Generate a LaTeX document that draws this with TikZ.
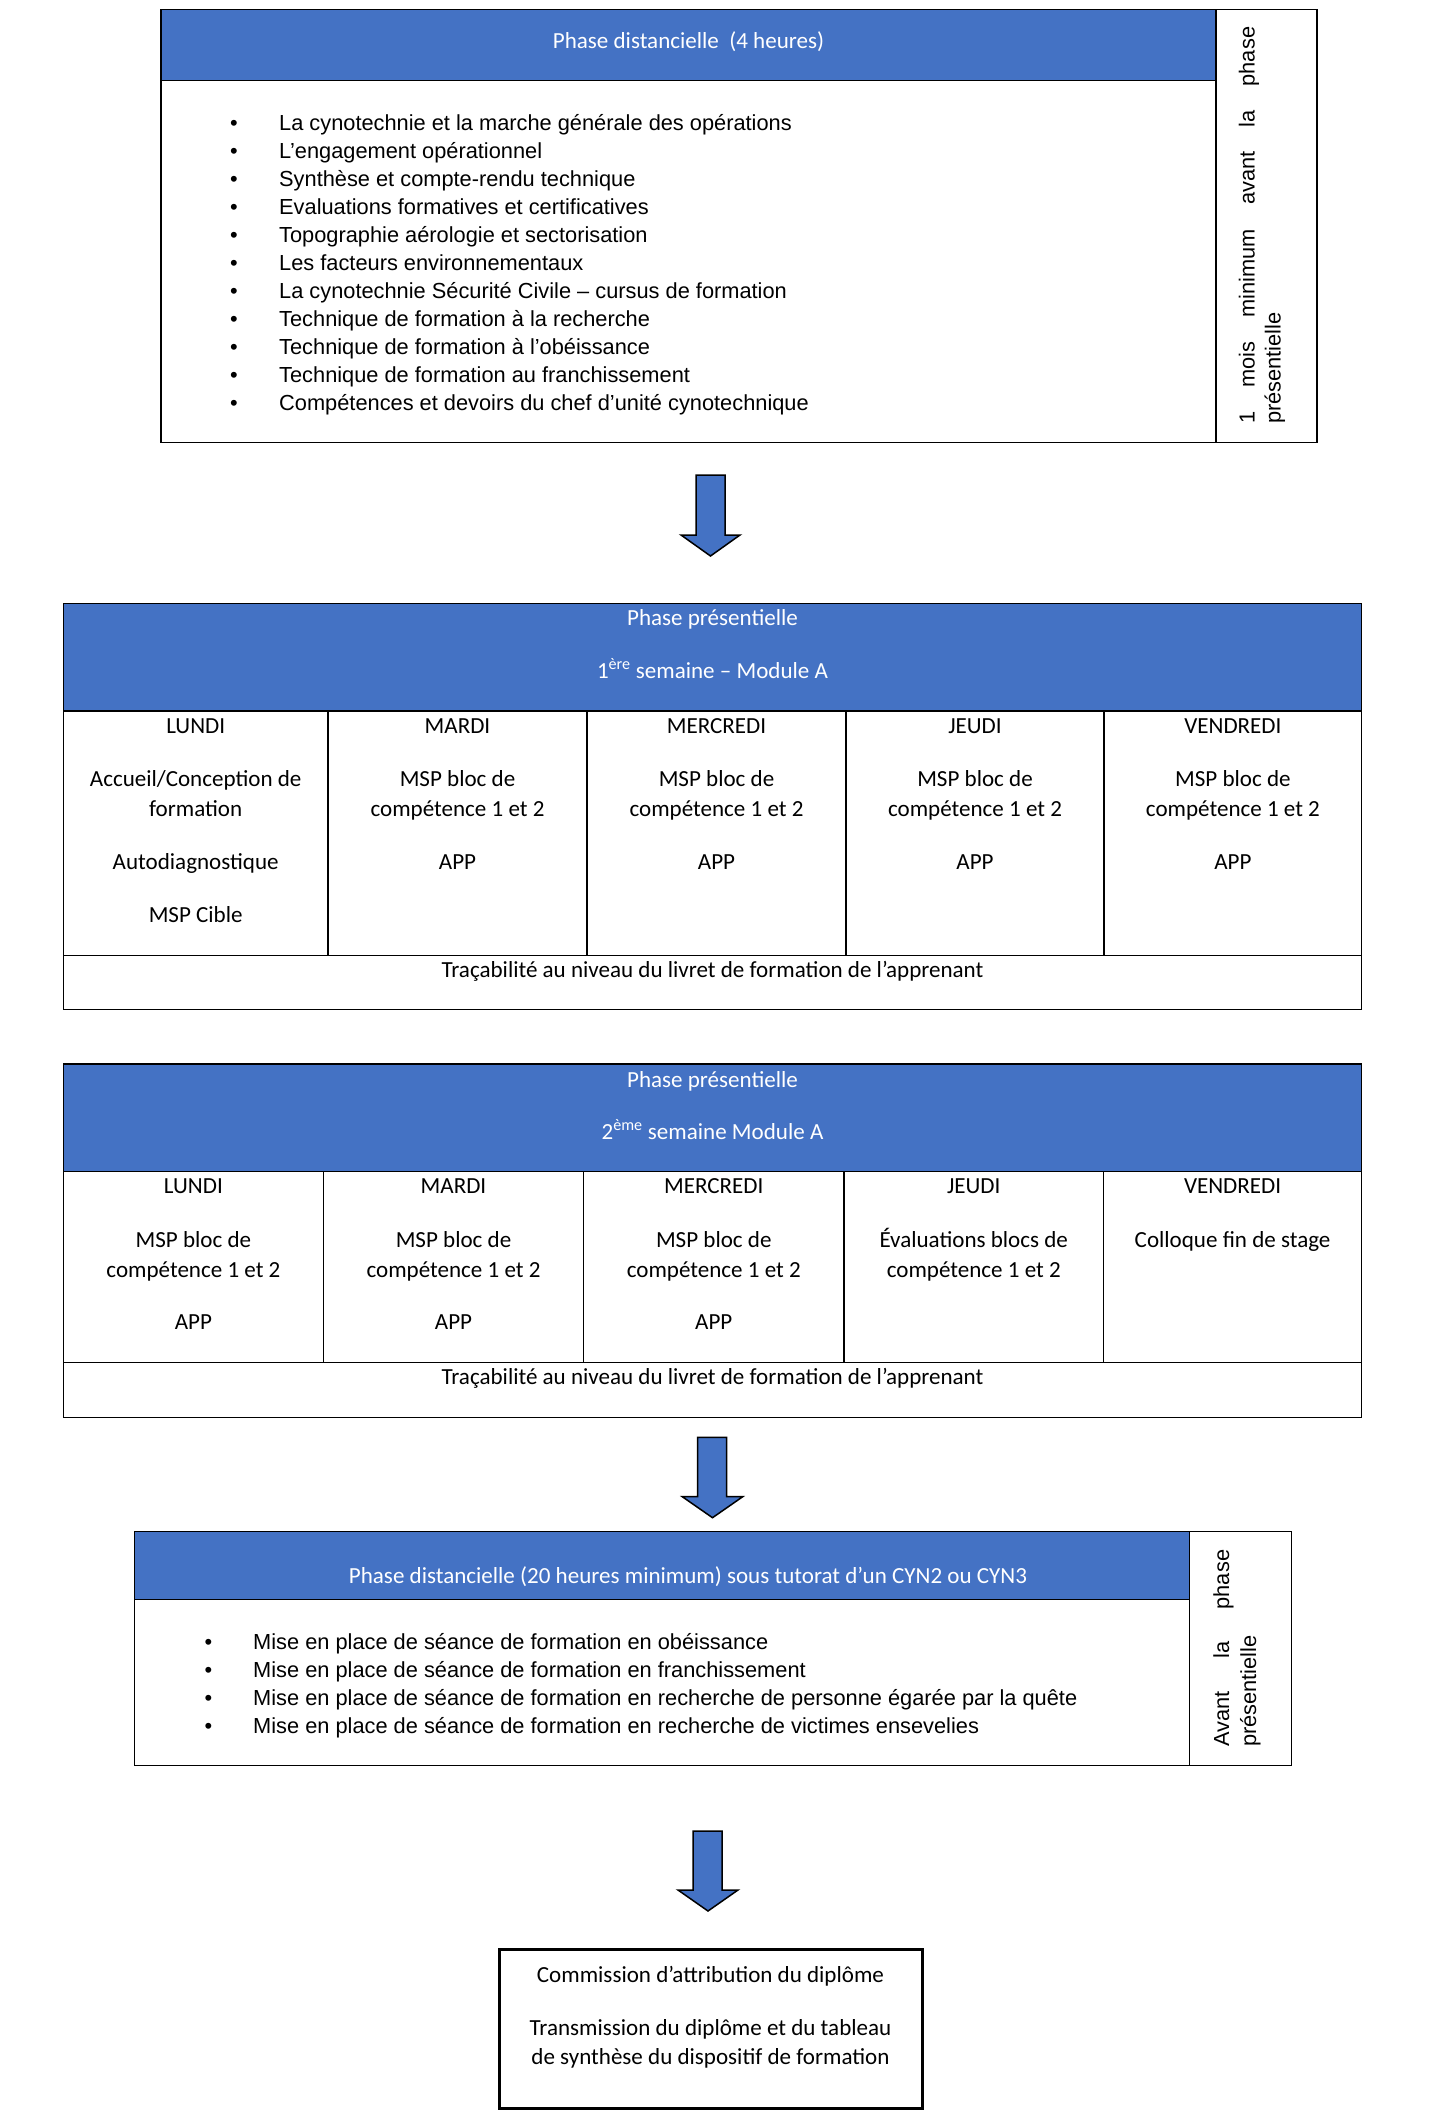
\documentclass[tikz,border=0pt]{standalone}
\usepackage{fontspec}
\setmainfont{Carlito}
\newfontfamily\arialf{Liberation Sans}
\definecolor{hblue}{RGB}{68,114,196}
\begin{document}
\begin{tikzpicture}[x=1pt,y=-1pt,
  cal/.style={font=\fontsize{23.05}{30}\selectfont, text height=1.3em, text depth=0pt, inner sep=0pt},
  ari/.style={font=\arialf\fontsize{21.8}{28}\selectfont, text height=1.33em, text depth=0pt, inner sep=0pt},
  hdr/.style={cal, text=white},
  thin/.style={line width=1.3pt, draw=black},
  barrow/.style={fill=hblue, draw=black, line width=1.5pt, line join=miter},
  bigbox/.style={line width=3pt, draw=black},
]
\useasboundingbox (0,0) rectangle (1429,2117);
\fill[white] (0,0) rectangle (1429,2117);

% ---------- top box : phase distancielle (4 heures)
\fill[hblue] (161,9.3) rectangle (1216,80.3);
\draw[thin] (161,9.3) rectangle (1317,442.7);
\draw[thin] (161,80.3) -- (1216,80.3);
\draw[thin] (1216,9.3) -- (1216,442.7);
\node[hdr] (h1) at (688.5,42) {Phase distancielle\ \ (4 heures)};
\foreach \t [count=\i from 0] in {%
  La cynotechnie et la marche générale des opérations,
  L’engagement opérationnel,
  Synthèse et compte-rendu technique,
  Evaluations formatives et certificatives,
  Topographie aérologie et sectorisation,
  Les facteurs environnementaux,
  La cynotechnie Sécurité Civile – cursus de formation,
  Technique de formation à la recherche,
  Technique de formation à l’obéissance,
  Technique de formation au franchissement,
  Compétences et devoirs du chef d’unité cynotechnique}{%
  \node[ari] (b\i) at (234,{124+28*\i}) {•};
  \node[ari, anchor=west] (l\i) at (279,{124+28*\i}) {\t};
}
\node[ari, rotate=90, anchor=west] (s1a) at (1248,424) {\makebox[397pt][s]{1 mois minimum avant la phase}};
\node[ari, rotate=90, anchor=west] (s1b) at (1274,424) {présentielle};

% ---------- arrow 1
\draw[barrow] (696,475) -- (725,475) -- (725,535) -- (740,535) -- (710.5,556) -- (681,535) -- (696,535) -- cycle;

% ---------- table 1
\fill[hblue] (63.3,603.3) rectangle (1361.7,711);
\draw[thin] (63.3,603.3) rectangle (1361.7,1009.3);
\draw[thin] (63.3,711) -- (1361.7,711);
\draw[thin] (63.3,955.3) -- (1361.7,955.3);
\foreach \x in {328,587,846,1104} \draw[thin] (\x,711) -- (\x,955.3);
\node[hdr] (t1h1) at (712.5,619) {Phase présentielle};
\node[hdr] (t1h2) at (712.5,672) {1\textsuperscript{ère} semaine – Module A};
\node[cal] (t1d1) at (195.7,727) {LUNDI};
\node[cal] (t1d2) at (457.5,727) {MARDI};
\node[cal] (t1d3) at (716.5,727) {MERCREDI};
\node[cal] (t1d4) at (975,727) {JEUDI};
\node[cal] (t1d5) at (1232.9,727) {VENDREDI};
\node[cal] (t1a1) at (195.7,780) {Accueil/Conception de};
\node[cal] (t1b1) at (195.7,810) {formation};
\node[cal] (t1c1) at (195.7,862.7) {Autodiagnostique};
\node[cal] (t1e1) at (195.7,915.7) {MSP Cible};
\foreach \x [count=\i from 2] in {457.5,716.5,975,1232.9}{%
  \node[cal] (t1a\i) at (\x,780) {MSP bloc de};
  \node[cal] (t1b\i) at (\x,810) {compétence 1 et 2};
  \node[cal] (t1c\i) at (\x,862.7) {APP};
}
\node[cal] (t1tr) at (712.5,971) {Traçabilité au niveau du livret de formation de l’apprenant};

% ---------- table 2
\fill[hblue] (63.3,1064) rectangle (1361.7,1171.5);
\draw[thin] (63.3,1064) rectangle (1361.7,1417.3);
\draw[thin] (63.3,1171.5) -- (1361.7,1171.5);
\draw[thin] (63.3,1362.5) -- (1361.7,1362.5);
\foreach \x in {323.5,583.5,844,1103.5} \draw[thin] (\x,1171.5) -- (\x,1362.5);
\node[hdr] (t2h1) at (712.5,1080.7) {Phase présentielle};
\node[hdr] (t2h2) at (712.5,1133) {2\textsuperscript{ème} semaine Module A};
\node[cal] (t2d1) at (193.4,1186.7) {LUNDI};
\node[cal] (t2d2) at (453.5,1186.7) {MARDI};
\node[cal] (t2d3) at (713.75,1186.7) {MERCREDI};
\node[cal] (t2d4) at (973.75,1186.7) {JEUDI};
\node[cal] (t2d5) at (1232.6,1186.7) {VENDREDI};
\foreach \x [count=\i] in {193.4,453.5,713.75}{%
  \node[cal] (t2a\i) at (\x,1241) {MSP bloc de};
  \node[cal] (t2b\i) at (\x,1271) {compétence 1 et 2};
  \node[cal] (t2c\i) at (\x,1323.3) {APP};
}
\node[cal] (t2a4) at (973.75,1241) {Évaluations blocs de};
\node[cal] (t2b4) at (973.75,1271) {compétence 1 et 2};
\node[cal] (t2a5) at (1232.6,1241) {Colloque fin de stage};
\node[cal] (t2tr) at (712.5,1378) {Traçabilité au niveau du livret de formation de l’apprenant};

% ---------- arrow 2
\draw[barrow] (697.7,1437.3) -- (726.7,1437.3) -- (726.7,1496.7) -- (742.7,1496.7) -- (712.5,1517.7) -- (682.3,1496.7) -- (697.7,1496.7) -- cycle;

% ---------- box 2 : phase distancielle (20 heures)
\fill[hblue] (134.5,1531.7) rectangle (1189.3,1599.3);
\draw[thin] (134.5,1531.7) rectangle (1291.3,1765.3);
\draw[thin] (134.5,1599.3) -- (1189.3,1599.3);
\draw[thin] (1189.3,1531.7) -- (1189.3,1765.3);
\node[hdr] (h2) at (688,1576.7) {Phase distancielle (20 heures minimum) sous tutorat d’un CYN2 ou CYN3};
\foreach \t [count=\i from 0] in {%
  Mise en place de séance de formation en obéissance,
  Mise en place de séance de formation en franchissement,
  Mise en place de séance de formation en recherche de personne égarée par la quête,
  Mise en place de séance de formation en recherche de victimes ensevelies}{%
  \node[ari] (m\i) at (208.5,{1643+28*\i}) {•};
  \node[ari, anchor=west] (n\i) at (253,{1643+28*\i}) {\t};
}
\node[ari, rotate=90, anchor=west] (s2a) at (1222.5,1747) {\makebox[197pt][s]{Avant la phase}};
\node[ari, rotate=90, anchor=west] (s2b) at (1249.5,1747) {présentielle};

% ---------- arrow 3
\draw[barrow] (693,1831) -- (722,1831) -- (722,1890) -- (738,1890) -- (708,1911) -- (678,1890) -- (693,1890) -- cycle;

% ---------- final box
\draw[bigbox] (499,1949) rectangle (922,2108);
\node[cal] (f1) at (710.5,1976) {Commission d’attribution du diplôme};
\node[cal] (f2) at (710.5,2029) {Transmission du diplôme et du tableau};
\node[cal] (f3) at (710.5,2058) {de synthèse du dispositif de formation};
\end{tikzpicture}
\end{document}
